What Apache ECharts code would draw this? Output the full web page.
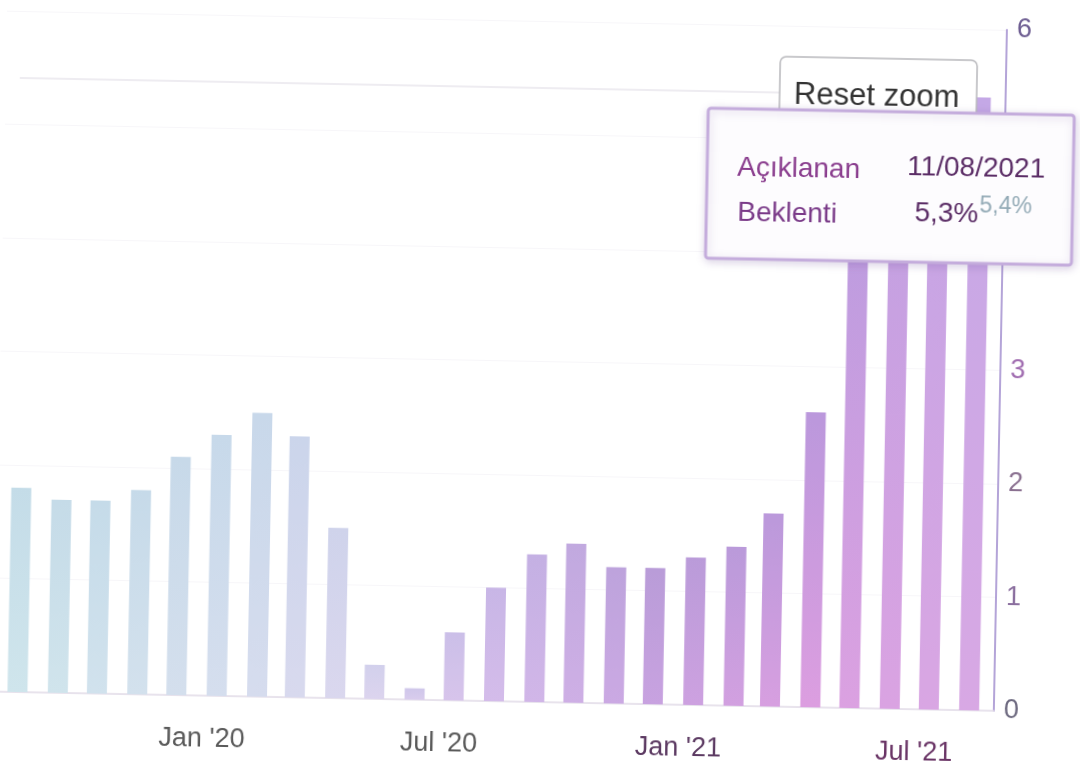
<!DOCTYPE html>
<html>
<head>
<meta charset="utf-8">
<script src="https://cdn.jsdelivr.net/npm/echarts@6/dist/echarts.min.js"></script>
<style>
html,body{margin:0;padding:0;background:#fff;overflow:hidden;}
#chart{width:1080px;height:771px;transform:rotate(1.1deg);transform-origin:540px 385px;}
</style>
</head>
<body>
<div id="chart"></div>
<script>
// ---- data (US CPI y/y, by release month) ----
const releaseMonths = ['2019-08-12','2019-09-12','2019-10-12','2019-11-12','2019-12-12','2020-01-12','2020-02-12','2020-03-12','2020-04-12','2020-05-12','2020-06-12','2020-07-12','2020-08-12','2020-09-12','2020-10-12','2020-11-12','2020-12-12','2021-01-12','2021-02-12','2021-03-12','2021-04-12','2021-05-12','2021-06-12','2021-07-12','2021-08-12'];
const values = [1.8,1.7,1.7,1.8,2.1,2.3,2.5,2.3,1.5,0.3,0.1,0.6,1.0,1.3,1.4,1.2,1.2,1.3,1.4,1.7,2.6,4.2,5.0,5.4,5.4];
const xTickDates = ['2020-01-01','2020-07-01','2021-01-01','2021-07-01'];
const xTickLabels = ["Jan '20","Jul '20","Jan '21","Jul '21"];
const tooltipLabels = ['Açıklanan','Beklenti'];
const tooltipDate = '11/08/2021';
const expectation = '5,3%';
const resetLabel = 'Reset zoom';

const ts = s => echarts.number.parseDate(s).getTime();
const seriesData = releaseMonths.map((d,i)=>[ts(d), values[i]]);
const tickTs = xTickDates.map(ts);
const fmtPct = v => v.toFixed(1).replace('.',',') + '%';

// colour ramp (style only)
const topStops = [[0,'#c4dce8'],[6,'#c8d8ea'],[9,'#d2d0ec'],[12,'#c8b6e6'],[16,'#b99cd8'],[20,'#bb98dc'],[24,'#c4a8e6']];
const botStops = [[0,'#cfe5ec'],[6,'#d6dcee'],[9,'#dcd4ee'],[12,'#d4bcea'],[16,'#c8a2e0'],[20,'#dc9ee0'],[24,'#d8a8e4']];
function hex2rgb(h){return [1,3,5].map(k=>parseInt(h.substr(k,2),16));}
function ramp(stops,i){
  for(let k=0;k<stops.length-1;k++){
    const [a,ca]=stops[k],[b,cb]=stops[k+1];
    if(i>=a&&i<=b){const t=(i-a)/(b-a);const A=hex2rgb(ca),B=hex2rgb(cb);
      return 'rgb('+A.map((v,j)=>Math.round(v+(B[j]-v)*t)).join(',')+')';}
  }
  return stops[stops.length-1][1];
}
const xLabelColors = ['#5a5a5a','#5a5a5a','#5c3a62','#6a3566'];
const yLabelColors = ['#6e6a80','#8a6e9e','#8a7090','#a06cb0','#9a7ab0','#9a7ab0','#6e5e92'];
const FONT = '"Liberation Sans", Arial, sans-serif';
const Z = 100;

const chart = echarts.init(document.getElementById('chart'), null, {renderer:'canvas'});
chart.setOption({
  animation:false,
  backgroundColor:'#ffffff',
  grid:{left:0,right:80,top:21,bottom:69},
  xAxis:{
    type:'value',
    min: ts('2019-07-25'),
    max: ts('2021-08-31'),
    axisLine:{show:true,lineStyle:{color:'#e2dce8',width:1.5}},
    axisTick:{show:false},
    splitLine:{show:false},
    axisLabel:{
      customValues: tickTs,
      margin:30,
      fontSize:27,
      fontFamily:FONT,
      formatter:v=>{const i=tickTs.indexOf(Number(v));return i>=0?xTickLabels[i]:'';},
      color:(v)=>{const i=tickTs.indexOf(Number(v));return i>=0?xLabelColors[i]:'#555';}
    }
  },
  yAxis:{
    type:'value',
    position:'right',
    min:0,max:6,interval:1,
    axisLine:{show:true,lineStyle:{color:'#b4a4d8',width:2}},
    axisTick:{show:false},
    splitLine:{show:true,lineStyle:{color:'#f7f6f9',width:1}},
    axisLabel:{
      margin:10,fontSize:27,fontFamily:FONT,
      color:(v)=>yLabelColors[Math.round(Number(v))]||'#777'
    }
  },
  series:[{
    type:'bar',
    data:seriesData,
    barWidth:20,
    itemStyle:{
      color:(p)=>new echarts.graphic.LinearGradient(0,0,0,1,[
        {offset:0,color:ramp(topStops,p.dataIndex)},
        {offset:1,color:ramp(botStops,p.dataIndex)}
      ])
    }
  }],
  graphic:[
    {type:'line',z:1,silent:true,shape:{x1:14,y1:88,x2:774,y2:88},style:{stroke:'#e8e6ec',lineWidth:1.5}},
    {type:'rect',z:Z,shape:{x:774,y:52,width:197,height:70,r:6},style:{fill:'#ffffff',stroke:'#b8b8bc',lineWidth:1.5}},
    {type:'text',z:Z+1,style:{x:871,y:90,text:resetLabel,fontSize:31,fontFamily:FONT,fill:'#333333',align:'center',verticalAlign:'middle'}},
    {type:'rect',z:Z+10,shape:{x:703,y:105,width:366,height:150,r:3},
      style:{fill:'#fdfcfe',stroke:'#c4acdc',lineWidth:3,shadowBlur:8,shadowColor:'rgba(120,90,160,0.25)',shadowOffsetX:1,shadowOffsetY:2}},
    {type:'text',z:Z+11,style:{x:733,y:164,text:tooltipLabels[0],fontSize:28,fontFamily:FONT,fill:'#8a3d8e',verticalAlign:'middle'}},
    {type:'text',z:Z+11,style:{x:1041,y:160,text:tooltipDate,fontSize:28,fontFamily:FONT,fill:'#5b2d66',align:'right',verticalAlign:'middle'}},
    {type:'text',z:Z+11,style:{x:734,y:209,text:tooltipLabels[1],fontSize:28,fontFamily:FONT,fill:'#7a3a88',verticalAlign:'middle'}},
    {type:'text',z:Z+11,style:{x:975,y:206,text:expectation,fontSize:28,fontFamily:FONT,fill:'#5b2d66',align:'right',verticalAlign:'middle'}},
    {type:'text',z:Z+11,style:{x:976,y:198,text:fmtPct(values[values.length-1]),fontSize:23,fontFamily:FONT,fill:'#93aab6',align:'left',verticalAlign:'middle'}}
  ]
});
</script>
</body>
</html>
